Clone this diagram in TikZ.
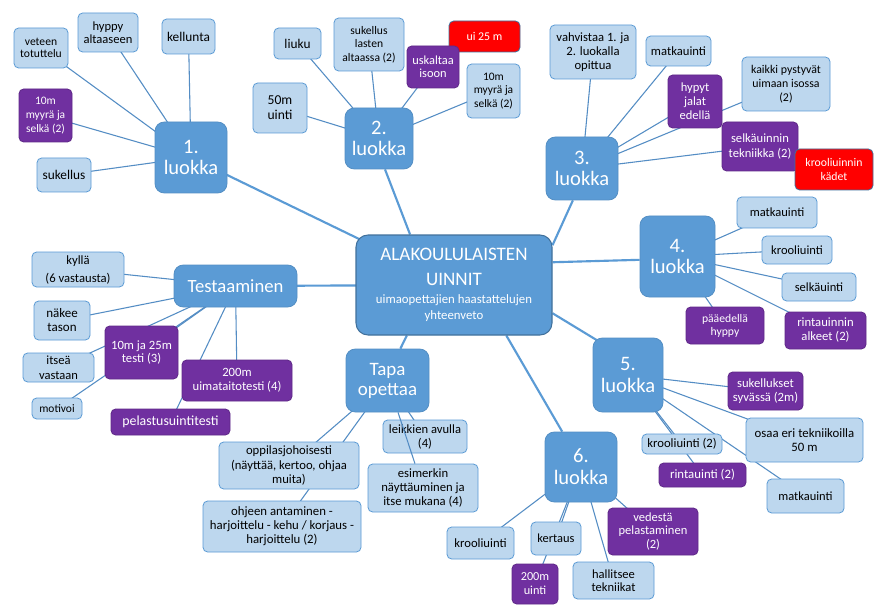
\documentclass[tikz,border=0pt]{standalone}
\usepackage{fontspec}
\setmainfont{Carlito}
\definecolor{mblue}{RGB}{91,155,213}
\definecolor{mblueD}{RGB}{65,113,156}
\definecolor{lfill}{RGB}{189,215,238}
\definecolor{ldraw}{RGB}{91,155,213}
\definecolor{pfill}{RGB}{112,48,160}
\definecolor{lineblue}{RGB}{84,141,196}
\definecolor{rfill}{RGB}{255,0,0}
\pgfdeclarelayer{edgelayer}
\pgfsetlayers{edgelayer,main}
\newcommand\mmfs[2]{\fontsize{#1}{#2}\selectfont}
\newcommand\mmbox[7]{\node[#2, minimum width={(#5-#3)*0.75pt}, minimum height={(#6-#4)*0.75pt}] (#1) at ({(#3+#5)/2},{(#4+#6)/2}) {#7};}
\begin{document}
\begin{tikzpicture}[x=0.75pt,y=-0.75pt,
 mmbase/.style={inner sep=0pt, align=center, line width=0.6pt, rounded corners=3.5pt},
 leaf/.style={mmbase, fill=lfill, draw=ldraw, text=black, font=\mmfs{9.5}{11}},
 purp/.style={mmbase, fill=pfill, draw=pfill!85!black, text=white, font=\mmfs{9.5}{11}},
 redbox/.style={mmbase, fill=rfill, draw=mblueD, text=white, font=\mmfs{8.8}{11}},
 cls/.style={mmbase, rounded corners=7pt, fill=mblue, draw=mblue!92!black, text=white, font=\mmfs{15.4}{16.3}},
 ctr/.style={inner sep=0pt, rounded corners=9pt, fill=mblue, draw=mblueD, line width=0.8pt, text=white},
 trunk/.style={draw=mblue, line width=1.6pt},
 twig/.style={draw=lineblue, line width=0.8pt},
]
\useasboundingbox (0,0) rectangle (889,613);
% centre
\mmbox{c}{ctr}{356}{235}{552}{335}{\parbox{147pt}{\centering\mmfs{14.3}{18.75}ALAKOULULAISTEN\\UINNIT\par\vspace{1.5pt}\mmfs{9.6}{12}uimaopettajien haastattelujen\\yhteenveto\par}}
% class nodes
\mmbox{n1}{cls}{155}{122}{227}{193}{1.\\luokka}
\mmbox{n2}{cls}{345}{108}{413}{169}{2.\\luokka}
\mmbox{n3}{cls}{546}{137}{618}{200}{3.\\luokka}
\mmbox{n4}{cls}{640}{216}{715}{297}{4.\\luokka}
\mmbox{n5}{cls}{593}{338}{663}{412}{5.\\luokka}
\mmbox{n6}{cls}{545}{432}{617}{502}{6.\\luokka}
\mmbox{ts}{cls,font=\mmfs{14}{16}}{174}{265}{297}{307}{Testaaminen}
\mmbox{tp}{cls,font=\mmfs{14.2}{15}}{346}{349}{429}{412}{Tapa\\opettaa}
% 1. luokka
\mmbox{l1a}{leaf,font=\mmfs{8.7}{9}}{14}{28}{68}{68}{veteen\\totuttelu}
\mmbox{l1b}{leaf,font=\mmfs{9.4}{10}}{78}{13}{138}{52}{hyppy\\altaaseen}
\mmbox{l1c}{leaf,font=\mmfs{10}{11}}{162}{19}{215}{54}{kellunta}
\mmbox{l1d}{purp,font=\mmfs{8.6}{10.5}}{19}{89}{72}{142}{10m\\myyrä ja\\selkä (2)}
\mmbox{l1e}{leaf,font=\mmfs{10}{11}}{37}{158}{91}{192}{sukellus}
% 2. luokka
\mmbox{l2a}{leaf,font=\mmfs{10}{11}}{274}{28}{321}{59}{liuku}
\mmbox{l2b}{leaf,font=\mmfs{8.7}{10}}{334}{18}{404}{71}{sukellus\\lasten\\altaassa (2)}
\mmbox{l2c}{redbox,font=\mmfs{8.9}{10}}{449}{21}{520}{52}{ui 25 m}
\mmbox{l2d}{purp,font=\mmfs{9.3}{9.5}}{407}{46}{459}{88}{uskaltaa\\isoon}
\mmbox{l2e}{leaf,font=\mmfs{8.6}{10}}{467}{64}{520}{118}{10m\\myyrä ja\\selkä (2)}
\mmbox{l2f}{leaf,font=\mmfs{10.2}{11.25}}{253}{83}{307}{133}{50m\\uinti}
% 3. luokka
\mmbox{l3a}{leaf,font=\mmfs{9.5}{10.5}}{550}{25}{636}{79}{vahvistaa 1. ja\\2. luokalla\\opittua}
\mmbox{l3b}{leaf}{646}{36}{711}{66}{matkauinti}
\mmbox{l3c}{purp,font=\mmfs{9.4}{10.6}}{668}{75}{722}{128}{hypyt\\jalat\\edellä}
\mmbox{l3d}{leaf,font=\mmfs{8.9}{10.5}}{742}{57}{830}{111}{kaikki pystyvät\\uimaan isossa\\(2)}
\mmbox{l3e}{purp,font=\mmfs{9.45}{11}}{722}{122}{798}{171}{selkäuinnin\\tekniikka (2)}
\mmbox{l3f}{redbox,font=\mmfs{8.8}{11}}{795}{149}{873}{190}{krooliuinnin\\kädet}
% 4. luokka
\mmbox{l4a}{leaf,font=\mmfs{9.4}{11}}{737}{197}{817}{228}{matkauinti}
\mmbox{l4b}{leaf,font=\mmfs{9.4}{11}}{762}{236}{832}{264}{krooliuinti}
\mmbox{l4c}{leaf,font=\mmfs{9.4}{11}}{782}{273}{856}{301}{selkäuinti}
\mmbox{l4d}{purp,font=\mmfs{8.75}{9.75}}{686}{307}{764}{344}{pääedellä\\hyppy}
\mmbox{l4e}{purp,font=\mmfs{9.5}{10.5}}{785}{312}{866}{349}{rintauinnin\\alkeet (2)}
% 5. luokka
\mmbox{l5a}{purp,font=\mmfs{9.5}{10.75}}{728}{372}{803}{410}{sukellukset\\syvässä (2m)}
\mmbox{l5b}{leaf,font=\mmfs{9.6}{10.5}}{746}{418}{863}{462}{osaa eri tekniikoilla\\50 m}
\mmbox{l5c}{leaf}{642}{434}{722}{454}{krooliuinti (2)}
\mmbox{l5d}{purp,font=\mmfs{9.6}{11}}{659}{463}{746}{487}{rintauinti (2)}
\mmbox{l5e}{leaf,font=\mmfs{9.35}{11}}{767}{479}{844}{513}{matkauinti}
% 6. luokka
\mmbox{l6a}{leaf}{447}{527}{514}{559}{krooliuinti}
\mmbox{l6b}{leaf,font=\mmfs{9.3}{11}}{531}{522}{581}{555}{kertaus}
\mmbox{l6c}{purp,font=\mmfs{9.2}{10.5}}{512}{564}{558}{604}{200m\\uinti}
\mmbox{l6d}{leaf,font=\mmfs{9.4}{9.8}}{573}{562}{654}{599}{hallitsee\\tekniikat}
\mmbox{l6e}{purp,font=\mmfs{9.4}{10.3}}{608}{508}{698}{555}{vedestä\\pelastaminen\\(2)}
% Testaaminen
\mmbox{t1}{leaf,font=\mmfs{9.5}{13.5}}{32}{252}{124}{287}{kyllä\\(6 vastausta)}
\mmbox{t2}{leaf,font=\mmfs{9.75}{10.5}}{34}{301}{90}{340}{näkee\\tason}
\mmbox{t3}{leaf,font=\mmfs{9.4}{11.25}}{23}{353}{94}{382}{itseä\\vastaan}
\mmbox{t4}{leaf,font=\mmfs{8.6}{10}}{32}{398}{82}{419}{motivoi}
\mmbox{t5}{purp,font=\mmfs{9.5}{10}}{105}{326}{178}{379}{10m ja 25m\\testi (3)}
\mmbox{t6}{purp,font=\mmfs{9.5}{10.3}}{182}{360}{292}{401}{200m\\uimataitotesti (4)}
\mmbox{t7}{purp,font=\mmfs{10.4}{11}}{111}{409}{230}{435}{pelastusuintitesti}
% Tapa opettaa
\mmbox{p1}{leaf,font=\mmfs{9.45}{10.5}}{383}{420}{467}{453}{leikkien avulla\\(4)}
\mmbox{p2}{leaf,font=\mmfs{9.5}{10.5}}{368}{464}{478}{512}{esimerkin\\näyttäuminen ja\\itse mukana (4)}
\mmbox{p3}{leaf,font=\mmfs{9.5}{10.9}}{219}{442}{359}{489}{oppilasjohoisesti\\(näyttää, kertoo, ohjaa\\muita)}
\mmbox{p4}{leaf,font=\mmfs{9.6}{10.4}}{203}{501}{361}{552}{ohjeen antaminen -\\harjoittelu - kehu / korjaus -\\harjoittelu (2)}
% connectors behind the nodes
\begin{pgfonlayer}{edgelayer}
\fill[white] (0,0) rectangle (889,613);
\draw[trunk] (c.center) -- (n1.center);
\draw[trunk] (c.131) -- (n2.-79);
\draw[trunk] (c.22) -- (n3.254);
\draw[trunk] (c.13) -- (n4.185);
\draw[trunk, shorten >=-4pt] (c.-16) -- (n5.north west);
\draw[trunk] (c.-44) -- (n6.118);
\draw[trunk] (c.227) -- (tp.68);
\draw[trunk] (c.center) -- (ts.center);
\foreach \a/\b in {n1/l1a,n1/l1b,n1/l1c,n1/l1d,n1/l1e,
  n2/l2a,n2/l2b,n2/l2d,n2/l2e,n2/l2f,
  n3/l3a,n3/l3b,n3/l3c,n3/l3d,n3/l3e,
  n4/l4a,n4/l4b,n4/l4c,n4/l4d,n4/l4e,
  n5/l5a,n5/l5b,n5/l5c,n5/l5d,n5/l5e,
  n6/l6a,n6/l6b,n6/l6c,n6/l6d,n6/l6e,
  ts/t1,ts/t2,ts/t3,ts/t4,ts/t5,ts/t6,ts/t7,
  tp/p1,tp/p3,tp/p4}
  \draw[twig] (\a.center) -- (\b.center);
\end{pgfonlayer}
% this one crosses over the "leikkien avulla" box
\draw[twig] (tp) -- (p2);
\end{tikzpicture}
\end{document}
